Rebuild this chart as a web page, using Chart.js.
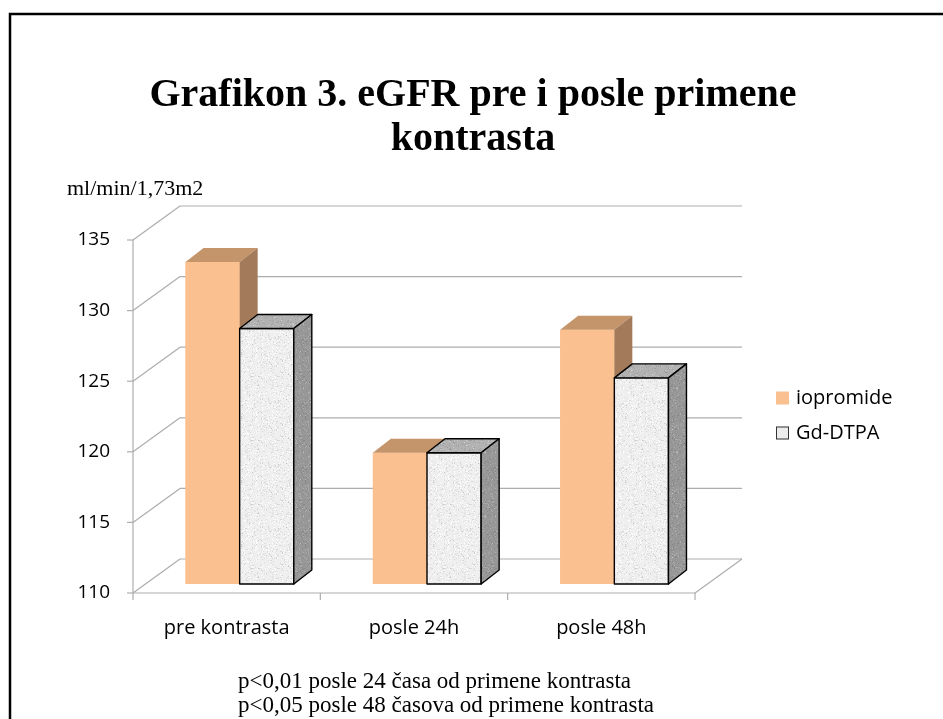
<!DOCTYPE html>
<html>
<head>
<meta charset="utf-8">
<script src="https://cdn.jsdelivr.net/npm/chart.js@4.4.0/dist/chart.umd.min.js"></script>
<style>
    html, body { margin: 0; padding: 0; background: #ffffff; }
    #moldura { position: relative; width: 943px; height: 719px; }
</style>
</head>
<body>
<div id="moldura"><canvas id="grafico" width="943" height="719"></canvas></div>
<script>
const categorias = ['pre kontrasta', 'posle 24h', 'posle 48h'];
const valoresIopromide = [132.8, 119.3, 128.0];
const valoresGdDtpa = [128.1, 119.3, 124.6];
const nomesSeries = ['iopromide', 'Gd-DTPA'];
const eixoMin = 110;
const eixoMax = 135;
const eixoPasso = 5;
const tituloLinhas = ['Grafikon 3. eGFR pre i posle primene', 'kontrasta'];
const unidadeEixo = 'ml/min/1,73m2';
const notasRodape = [
    'p<0,01 posle 24 časa od primene kontrasta',
    'p<0,05 posle 48 časova od primene kontrasta'
];

// perspectiva: plano das barras -> frente / fundo, e profundidade da barra
const DESLOC_FRENTE = { x: -13, y: 9 };
const DESLOC_FUNDO = { x: 34, y: -25 };
const DESLOC_BARRA = { x: 18, y: -14 };
const COR_GRADE = '#adadad';

const canvas = document.getElementById('grafico');
const contexto = canvas.getContext('2d');

function criarTextura(base, pontoEscuro, pontoClaro) {
    const tela = document.createElement('canvas');
    tela.width = 64;
    tela.height = 64;
    const ctx = tela.getContext('2d');
    ctx.fillStyle = base;
    ctx.fillRect(0, 0, 64, 64);
    let semente = 12345;
    const proximo = () => (semente = (semente * 16807) % 2147483647) / 2147483647;
    for (let i = 0; i < 900; i++) {
        const x = Math.floor(proximo() * 64);
        const y = Math.floor(proximo() * 64);
        ctx.fillStyle = proximo() < 0.55 ? pontoEscuro : pontoClaro;
        ctx.fillRect(x, y, 1, 1);
    }
    return contexto.createPattern(tela, 'repeat');
}

const estilosBarras = [
    { frente: '#fac08f', topo: '#c4946a', lado: '#a47b5a', contorno: null },
    {
        frente: criarTextura('#efefef', 'rgba(0,0,0,0.09)', 'rgba(255,255,255,0.9)'),
        topo: criarTextura('#b2b2b2', 'rgba(0,0,0,0.10)', 'rgba(255,255,255,0.25)'),
        lado: criarTextura('#989898', 'rgba(0,0,0,0.10)', 'rgba(255,255,255,0.2)'),
        contorno: '#000000'
    }
];

function linha(ctx, x1, y1, x2, y2) {
    ctx.beginPath();
    ctx.moveTo(x1, y1);
    ctx.lineTo(x2, y2);
    ctx.stroke();
}

function poligono(ctx, pontos, preenchimento, contorno) {
    ctx.beginPath();
    pontos.forEach(([x, y], i) => (i === 0 ? ctx.moveTo(x, y) : ctx.lineTo(x, y)));
    ctx.closePath();
    ctx.fillStyle = preenchimento;
    ctx.fill();
    if (contorno) {
        ctx.strokeStyle = contorno;
        ctx.lineWidth = 1.4;
        ctx.lineJoin = 'round';
        ctx.stroke();
    }
}

function desenharBarra3d(ctx, barra, estilo) {
    const { x, y, base, width } = barra.getProps(['x', 'y', 'base', 'width'], true);
    const esq = x - width / 2;
    const dir = x + width / 2;
    const dx = DESLOC_BARRA.x;
    const dy = DESLOC_BARRA.y;
    poligono(ctx, [[esq, y], [dir, y], [dir, base], [esq, base]], estilo.frente, estilo.contorno);
    poligono(ctx, [[esq, y], [esq + dx, y + dy], [dir + dx, y + dy], [dir, y]], estilo.topo, estilo.contorno);
    poligono(ctx, [[dir, y], [dir + dx, y + dy], [dir + dx, base + dy], [dir, base]], estilo.lado, estilo.contorno);
}

const caixa3d = {
    id: 'caixa3d',
    beforeDraw(chart) {
        const ctx = chart.ctx;
        ctx.save();
        ctx.fillStyle = '#ffffff';
        ctx.fillRect(0, 0, chart.width, chart.height);

        ctx.strokeStyle = '#000000';
        ctx.lineWidth = 2.5;
        ctx.strokeRect(10, 14, 960, 760);

        ctx.fillStyle = '#000000';
        ctx.textAlign = 'center';
        ctx.textBaseline = 'alphabetic';
        ctx.font = 'bold 40px "Liberation Serif", "Times New Roman", serif';
        ctx.fillText(tituloLinhas[0], 473, 106);
        ctx.fillText(tituloLinhas[1], 473, 150);

        ctx.textAlign = 'left';
        ctx.font = '22px "Liberation Serif", "Times New Roman", serif';
        ctx.fillText(unidadeEixo, 67, 195);

        ctx.font = '23px "Liberation Serif", "Times New Roman", serif';
        ctx.fillText(notasRodape[0], 238, 688);
        ctx.fillText(notasRodape[1], 238, 712);
        ctx.restore();
    },
    beforeDatasetsDraw(chart) {
        const ctx = chart.ctx;
        const area = chart.chartArea;
        const escalaY = chart.scales.y;
        const frenteEsq = area.left + DESLOC_FRENTE.x;
        const frenteDir = area.right + DESLOC_FRENTE.x;
        const fundoEsq = area.left + DESLOC_FUNDO.x;
        const fundoDir = area.right + DESLOC_FUNDO.x;

        ctx.save();
        ctx.strokeStyle = COR_GRADE;
        ctx.lineWidth = 1.2;

        escalaY.ticks.forEach(tick => {
            const py = escalaY.getPixelForValue(tick.value);
            const yFrente = py + DESLOC_FRENTE.y;
            const yFundo = py + DESLOC_FUNDO.y;
            linha(ctx, fundoEsq, yFundo, fundoDir, yFundo);
            linha(ctx, frenteEsq, yFrente, fundoEsq, yFundo);
            linha(ctx, frenteEsq - 6, yFrente, frenteEsq, yFrente);
        });

        const yBaseFrente = escalaY.getPixelForValue(eixoMin) + DESLOC_FRENTE.y;
        const yBaseFundo = escalaY.getPixelForValue(eixoMin) + DESLOC_FUNDO.y;
        const yTopoFrente = escalaY.getPixelForValue(eixoMax) + DESLOC_FRENTE.y;

        linha(ctx, frenteEsq, yTopoFrente, frenteEsq, yBaseFrente);
        linha(ctx, frenteEsq, yBaseFrente, frenteDir, yBaseFrente);
        linha(ctx, frenteDir, yBaseFrente, fundoDir, yBaseFundo);

        const larguraCategoria = (area.right - area.left) / categorias.length;
        for (let i = 0; i <= categorias.length; i++) {
            const px = frenteEsq + i * larguraCategoria;
            linha(ctx, px, yBaseFrente, px, yBaseFrente + 7);
        }
        ctx.restore();
    },
    afterDatasetsDraw(chart) {
        const ctx = chart.ctx;
        ctx.save();
        categorias.forEach((_, indice) => {
            chart.data.datasets.forEach((dataset, d) => {
                const meta = chart.getDatasetMeta(d);
                desenharBarra3d(ctx, meta.data[indice], estilosBarras[d]);
            });
        });
        ctx.restore();
    },
    afterDraw(chart) {
        const ctx = chart.ctx;
        ctx.save();
        ctx.font = '20px "Open Sans", sans-serif';
        ctx.textBaseline = 'middle';
        ctx.textAlign = 'left';
        chart.data.datasets.forEach((dataset, d) => {
            const yCentro = 398 + d * 35;
            ctx.fillStyle = d === 0 ? estilosBarras[0].frente : '#ececec';
            ctx.fillRect(776, yCentro - 6.5, 13, 13);
            if (d === 1) {
                ctx.strokeStyle = '#333333';
                ctx.lineWidth = 1;
                ctx.strokeRect(776.5, yCentro - 6, 12, 12);
            }
            ctx.fillStyle = '#000000';
            ctx.fillText(dataset.label, 796, yCentro);
        });
        ctx.restore();
    }
};

new Chart(canvas, {
    type: 'bar',
    data: {
        labels: categorias,
        datasets: [
            { label: nomesSeries[0], data: valoresIopromide, backgroundColor: estilosBarras[0].frente, borderWidth: 0, base: eixoMin },
            { label: nomesSeries[1], data: valoresGdDtpa, backgroundColor: estilosBarras[1].frente, borderWidth: 0, base: eixoMin }
        ]
    },
    options: {
        responsive: false,
        devicePixelRatio: 1,
        animation: false,
        events: [],
        categoryPercentage: 0.578,
        barPercentage: 1,
        layout: { padding: { top: 231, right: 235, bottom: 65, left: 0 } },
        plugins: {
            legend: { display: false },
            title: { display: false },
            tooltip: { enabled: false }
        },
        scales: {
            x: {
                grid: { display: false, drawTicks: false },
                border: { display: false },
                afterFit(escala) { escala.height = 70; },
                ticks: {
                    color: '#000000',
                    font: { family: 'Open Sans', size: 20 },
                    padding: 32,
                    labelOffset: DESLOC_FRENTE.x,
                    maxRotation: 0
                }
            },
            y: {
                min: eixoMin,
                max: eixoMax,
                grid: { display: false, drawTicks: false },
                border: { display: false },
                afterFit(escala) { escala.width = 146; },
                ticks: {
                    stepSize: eixoPasso,
                    color: '#000000',
                    font: { family: 'Open Sans', size: 19 },
                    padding: 36,
                    labelOffset: DESLOC_FRENTE.y
                }
            }
        }
    },
    plugins: [caixa3d]
});
</script>
</body>
</html>
